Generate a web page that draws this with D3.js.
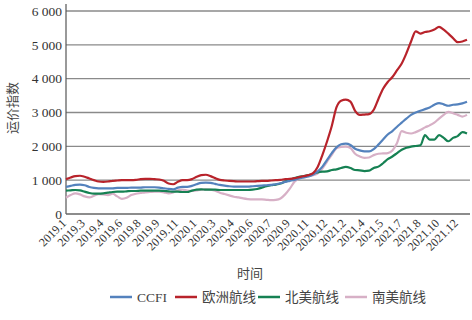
<!DOCTYPE html>
<html>
<head>
<meta charset="utf-8">
<script src="https://cdn.jsdelivr.net/npm/d3@7"></script>
<style>
  body { margin: 0; background: #fff; }
  .num { font-family: "Times New Roman", "Liberation Serif", Times, serif; }
  .cjk { font-family: "Noto Sans CJK SC", sans-serif; }
</style>
</head>
<body>
<div class="chart"></div>
<script>
let width = 472,
    height = 320;

// x labels, one every 4 points
const tickLabels = ["2019.1", "2019.3", "2019.4", "2019.6", "2019.8", "2019.9", "2019.11",
    "2020.1", "2020.3", "2020.4", "2020.6", "2020.7", "2020.9", "2020.11", "2020.12",
    "2021.2", "2021.4", "2021.5", "2021.7", "2021.8", "2021.10", "2021.12"];

const ccfi = [800, 830, 860, 870, 850, 800, 770, 760, 760, 760, 760, 770, 770, 770, 780, 780,
    780, 790, 790, 790, 780, 760, 740, 730, 780, 800, 800, 830, 880, 920, 930, 920,
    890, 860, 840, 820, 810, 810, 810, 810, 820, 830, 840, 850, 860, 880, 910, 950,
    980, 1010, 1050, 1080, 1110, 1170, 1260, 1400, 1600, 1800, 1970, 2060, 2080, 2040,
    1930, 1880, 1850, 1850, 1920, 2050, 2200, 2350, 2450, 2580, 2700, 2820, 2930, 3000,
    3050, 3100, 3150, 3230, 3280, 3240, 3200, 3230, 3240, 3270, 3320];

const europe = [1030, 1080, 1120, 1130, 1100, 1050, 1000, 960, 950, 960, 980, 990, 1000, 1000,
    1000, 1010, 1030, 1040, 1040, 1030, 1020, 980, 900, 880, 950, 1000, 1000, 1030,
    1100, 1150, 1160, 1120, 1060, 1010, 990, 980, 970, 960, 960, 960, 960, 970, 980,
    980, 990, 1000, 1010, 1030, 1040, 1060, 1090, 1120, 1150, 1210, 1400, 1750, 2150,
    2600, 3150, 3350, 3380, 3320, 3050, 2930, 2940, 2950, 3080, 3400, 3700, 3900, 4050,
    4250, 4450, 4750, 5100, 5400, 5330, 5380, 5400, 5450, 5530, 5450, 5330, 5200, 5080,
    5100, 5150];

const northAm = [690, 700, 710, 700, 660, 620, 600, 600, 610, 630, 650, 660, 660, 670, 680,
    680, 690, 690, 690, 690, 690, 680, 670, 660, 660, 650, 650, 690, 720, 730, 720, 720,
    720, 710, 710, 710, 710, 710, 710, 710, 720, 740, 780, 820, 850, 870, 900, 960, 1010,
    1060, 1100, 1120, 1150, 1190, 1230, 1250, 1260, 1300, 1320, 1360, 1390, 1360, 1300,
    1290, 1270, 1280, 1360, 1400, 1500, 1620, 1700, 1800, 1900, 1960, 1990, 2010, 2030,
    2330, 2200, 2200, 2330, 2250, 2150, 2250, 2300, 2420, 2380];

const southAm = [480, 560, 610, 580, 520, 490, 540, 590, 580, 560, 600, 520, 450, 480, 560,
    600, 620, 640, 650, 660, 660, 640, 610, 640, 700, 720, 690, 680, 700, 720, 730, 720,
    690, 630, 590, 550, 510, 490, 460, 440, 430, 430, 430, 420, 410, 420, 460, 580, 750,
    950, 1050, 1100, 1130, 1150, 1200, 1350, 1550, 1750, 1940, 1980, 1990, 1950, 1780,
    1700, 1660, 1670, 1740, 1780, 1790, 1800, 1880, 2100, 2450, 2400, 2380, 2420, 2480,
    2560, 2620, 2700, 2820, 2930, 3020, 2980, 2930, 2880, 2930];

const yTicks = [0, 1000, 2000, 3000, 4000, 5000, 6000];

const series = [
    { name: "CCFI", values: ccfi, color: "#5482bd" },
    { name: "欧洲航线", values: europe, color: "#b8232b" },
    { name: "北美航线", values: northAm, color: "#168153" },
    { name: "南美航线", values: southAm, color: "#d7b0c6" }
];

const plotLeft = 66, plotRight = 468, plotTop = 11, plotBottom = 214;

let svg = d3.select(".chart").append("svg")
    .attr("width", width)
    .attr("height", height);

let x = d3.scaleLinear()
    .domain([0, ccfi.length - 1])
    .range([plotLeft, plotRight - 1]);

let y = d3.scaleLinear()
    .domain([0, 6000])
    .range([plotBottom, plotTop]);

// grid lines
svg.append("g")
    .selectAll("line")
    .data(yTicks.filter(d => d > 0))
    .join("line")
    .attr("x1", plotLeft)
    .attr("x2", 470)
    .attr("y1", d => y(d))
    .attr("y2", d => y(d))
    .attr("stroke", "#8a8a8a")
    .attr("stroke-width", 1.3);

// y axis labels
svg.append("g")
    .selectAll("text")
    .data(yTicks)
    .join("text")
    .attr("class", "num")
    .attr("x", plotLeft - 4)
    .attr("y", d => y(d))
    .attr("dy", "0.35em")
    .attr("text-anchor", "end")
    .attr("font-size", 13.5)
    .attr("fill", "#333")
    .text(d => d3.format(",")(d).replace(",", " "));

// axis lines
svg.append("line")
    .attr("x1", plotLeft).attr("x2", plotLeft)
    .attr("y1", 4).attr("y2", plotBottom)
    .attr("stroke", "#555")
    .attr("stroke-width", 1.2);
svg.append("line")
    .attr("x1", plotLeft).attr("x2", 470)
    .attr("y1", plotBottom).attr("y2", plotBottom)
    .attr("stroke", "#666")
    .attr("stroke-width", 1.5);

// x labels
svg.append("g")
    .selectAll("text")
    .data(tickLabels)
    .join("text")
    .attr("class", "num")
    .attr("transform", (d, i) => `translate(${x(i * 4) + 1},${plotBottom + 10}) rotate(-45)`)
    .attr("text-anchor", "end")
    .attr("font-size", 12)
    .attr("fill", "#333")
    .text(d => d);

let line = d3.line()
    .x((d, i) => x(i))
    .y(d => y(d))
    .curve(d3.curveMonotoneX);

// draw pink first so the others sit on top
[series[3], series[2], series[0], series[1]].forEach(s => {
    svg.append("path")
        .datum(s.values)
        .attr("fill", "none")
        .attr("stroke", s.color)
        .attr("stroke-width", 2.2)
        .attr("stroke-linejoin", "round")
        .attr("d", line);
});

// axis titles
svg.append("text")
    .attr("class", "cjk")
    .attr("transform", "translate(17,108) rotate(-90)")
    .attr("text-anchor", "middle")
    .attr("font-size", 13)
    .attr("fill", "#444")
    .text("运价指数");

svg.append("text")
    .attr("class", "cjk")
    .attr("x", 250)
    .attr("y", 278)
    .attr("text-anchor", "middle")
    .attr("font-size", 13)
    .attr("fill", "#444")
    .text("时间");

// legend
const legendX = [110, 175, 258, 345];
series.forEach((s, i) => {
    svg.append("line")
        .attr("x1", legendX[i]).attr("x2", legendX[i] + 22)
        .attr("y1", 297).attr("y2", 297)
        .attr("stroke", s.color)
        .attr("stroke-width", 2.5);
    svg.append("text")
        .attr("class", i === 0 ? "num" : "cjk")
        .attr("x", legendX[i] + 27)
        .attr("y", 297)
        .attr("dy", "0.35em")
        .attr("font-size", 13.5)
        .attr("fill", "#444")
        .text(s.name);
});
</script>
</body>
</html>
